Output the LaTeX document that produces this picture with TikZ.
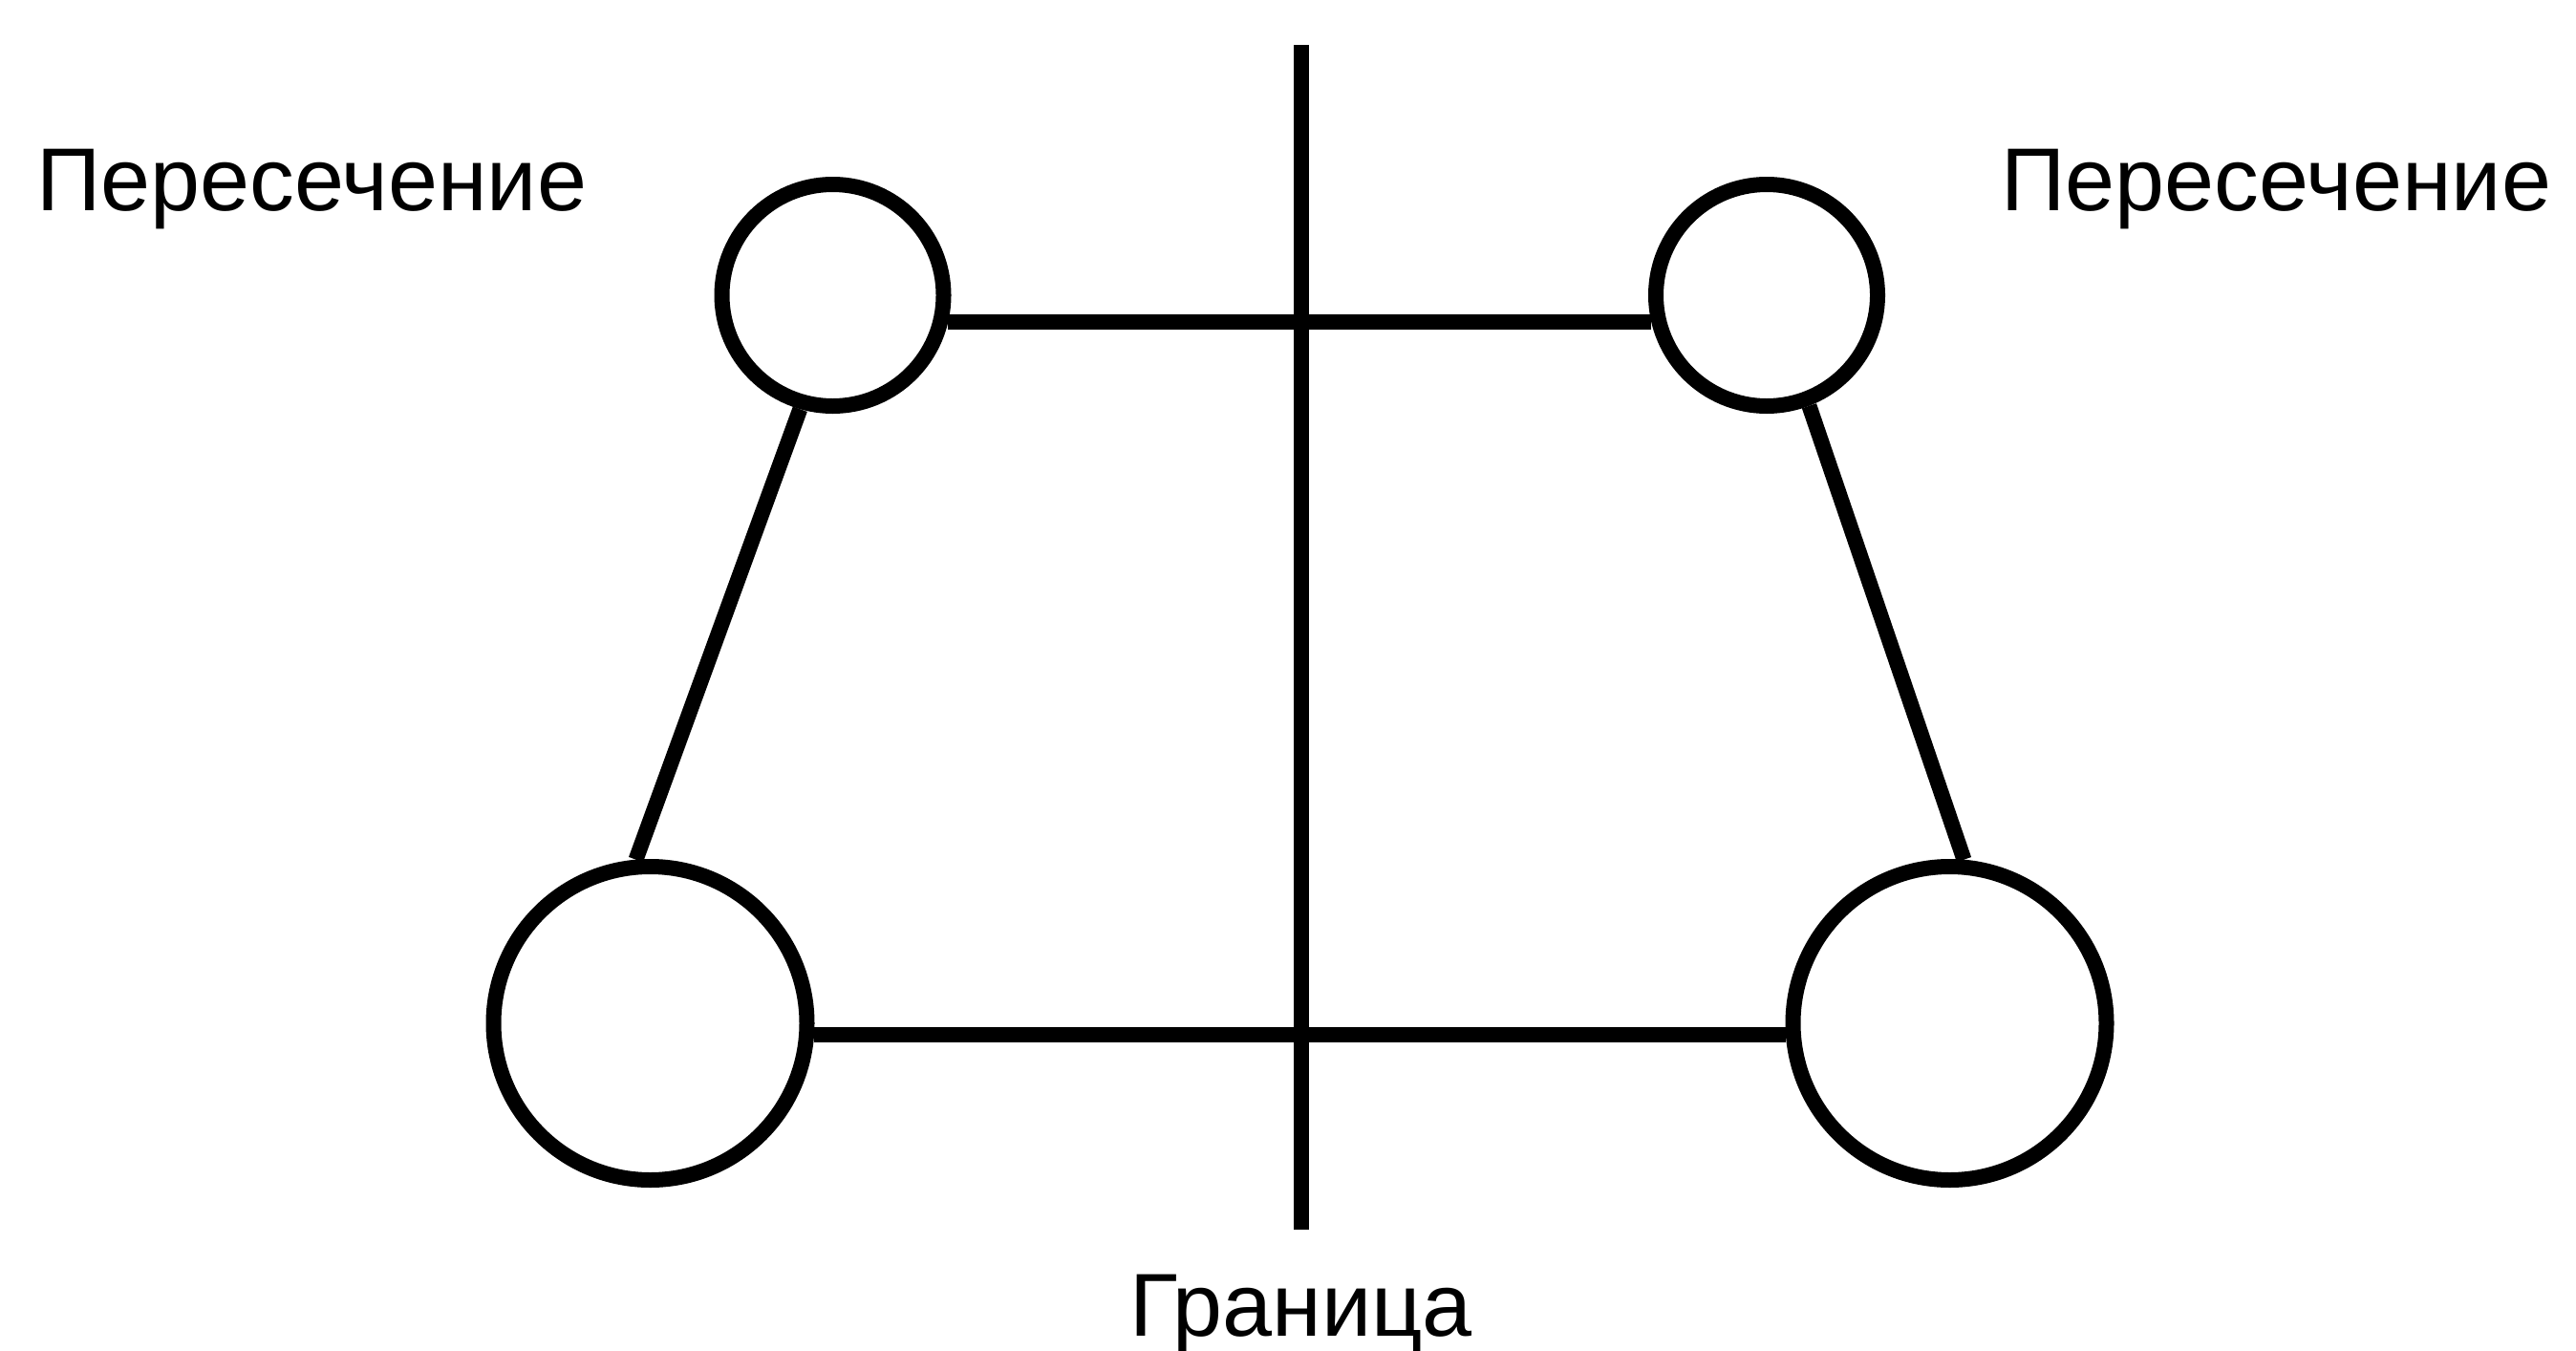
\documentclass[tikz,border=0pt]{standalone}
\usepackage{fontspec}
\setmainfont{Liberation Sans}
\usetikzlibrary{positioning}

\begin{document}
\begin{tikzpicture}[
      every node/.style={font=\fontsize{26.6}{31}\selectfont},
      junction/.style={circle, draw=black, line width=0.16cm, inner sep=0pt, minimum size=2.32cm},
      bigjunction/.style={junction, minimum size=3.28cm},
      link/.style={line width=0.16cm},
      tag/.style={inner sep=0pt, anchor=base west}
    ]
    \useasboundingbox (0,0) rectangle (26.96,14.13);

    % Nodes
    \node[junction] (tl) at (8.715,11.04) {};
    \node[junction] (tr) at (18.49,11.04) {};
    \node[bigjunction] (bl) at (6.805,3.42) {};
    \node[bigjunction] (br) at (20.405,3.42) {};

    \coordinate (top) at (13.615,13.66);
    \coordinate (bottom) at (13.615,1.26);

    % Labels
    \node[tag] (crossleft) at (0.38,11.93) {Пересечение};
    \node[tag] (crossright) at (20.94,11.93) {Пересечение};
    \node[tag, anchor=base] (border) at (13.615,0.15) {Граница};

    % Lines
    \draw[link] (top) -- (bottom);
    \draw[link] (tl.-13) -- (tr.193);
    \draw[link] (bl.-4.5) -- (br.184.5);
    \draw[link] (tl.254) -- (bl.95);
    \draw[link] (tr.291) -- (br.85);
\end{tikzpicture}
\end{document}
